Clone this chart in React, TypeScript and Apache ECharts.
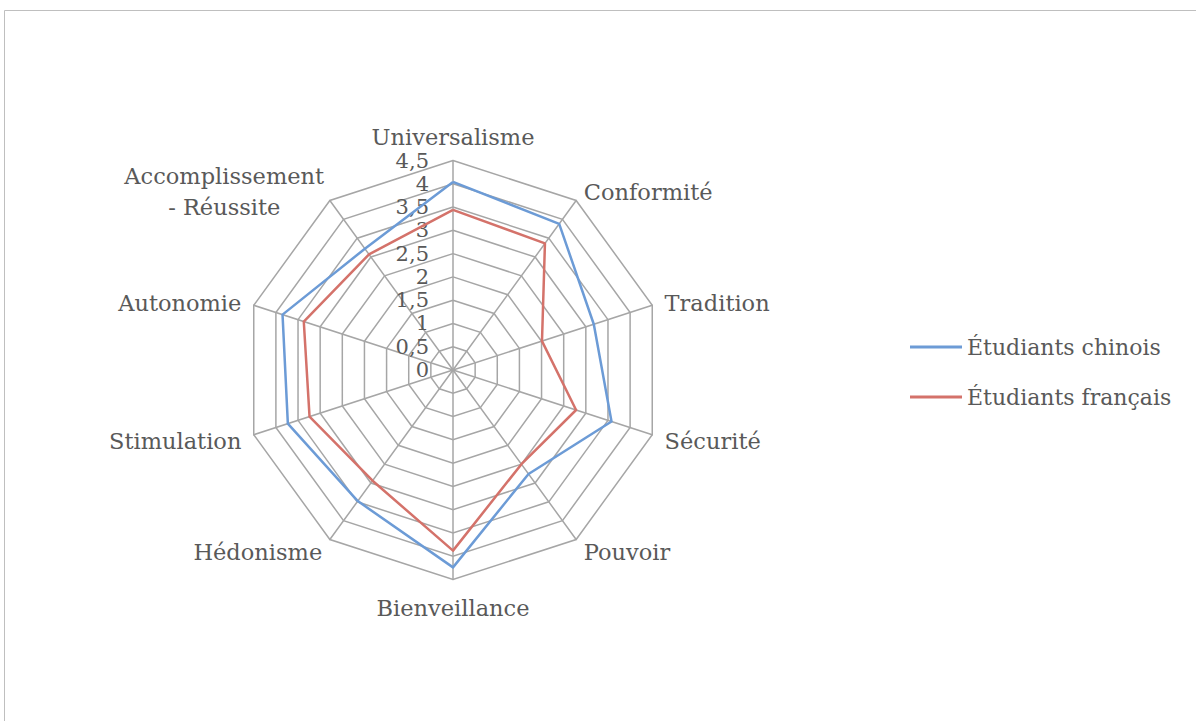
import React, { useEffect, useRef } from "react";
import * as echarts from "echarts";

// Indicators listed clockwise from the top (as in the reference)
const categories = [
  "Universalisme",
  "Conformité",
  "Tradition",
  "Sécurité",
  "Pouvoir",
  "Bienveillance",
  "Hédonisme",
  "Stimulation",
  "Autonomie",
  "Accomplissement\n- Réussite",
];
const chinois = [4.04, 3.88, 3.18, 3.58, 2.76, 4.24, 3.48, 3.73, 3.85, 3.22];
const francais = [3.44, 3.36, 2.01, 2.78, 2.5, 3.88, 2.94, 3.24, 3.37, 3.07];
const seriesNames = ["Étudiants chinois", "Étudiants français"];
const maxValue = 4.5;
const tickStep = 0.5;

const FONT = "DejaVu Serif";
const TEXT = "#595959";

export default function App() {
  const ref = useRef<HTMLDivElement>(null);
  useEffect(() => {
    const chart = echarts.init(ref.current!, null, { renderer: "svg" });
    // ECharts places indicators counter-clockwise; reorder to get clockwise display
    const order = [0, ...Array.from({ length: categories.length - 1 }, (_, i) => categories.length - 1 - i)];
    const indicator = order.map((idx, k) => ({
      name: categories[idx],
      min: 0,
      max: maxValue,
      ...(k === 0 ? { axisLabel: { show: true } } : {}),
    }));
    const pick = (arr: number[]) => order.map((i) => arr[i]);
    chart.setOption({
      animation: false,
      backgroundColor: "#ffffff",
      textStyle: { fontFamily: FONT },
      graphic: [
        {
          type: "rect",
          shape: { x: 4.5, y: 10.5, width: 1400, height: 900 },
          style: { fill: "none", stroke: "#bfbfbf", lineWidth: 1 },
          silent: true,
        },
      ],
      legend: {
        orient: "vertical",
        left: 910,
        top: 335,
        padding: 0,
        itemWidth: 52,
        itemHeight: 3,
        itemGap: 26,
        icon: "rect",
        textStyle: { fontFamily: FONT, fontSize: 22, lineHeight: 24, color: TEXT },
        data: seriesNames,
      },
      radar: {
        center: [453, 370],
        radius: 209.5,
        startAngle: 90,
        shape: "polygon",
        splitNumber: maxValue / tickStep,
        indicator,
        axisName: {
          color: TEXT,
          fontFamily: FONT,
          fontSize: 22.5,
          lineHeight: 22,
          padding: [4, 0, 0, 0],
          formatter: (name: string) =>
            name.includes("\n")
              ? name
                  .split("\n")
                  .map((l) => `{c|${l}}`)
                  .join("\n")
              : name,
          rich: {
            c: {
              width: 196,
              align: "center",
              fontFamily: FONT,
              fontSize: 22.5,
              lineHeight: 31,
              color: TEXT,
            },
          },
        },
        nameGap: 13,
        axisLine: { lineStyle: { color: "#a6a6a6", width: 1.5 } },
        splitLine: { lineStyle: { color: "#a6a6a6", width: 1.5 } },
        splitArea: { show: false },
        axisTick: { show: false },
        axisLabel: {
          show: false,
          color: TEXT,
          fontFamily: FONT,
          fontSize: 21,
          lineHeight: 18,
          padding: [4, 0, 0, 0],
          margin: 24,
          formatter: (v: number) => String(v).replace(".", ","),
        },
      },
      series: [
        {
          type: "radar",
          symbol: "none",
          data: [
            {
              name: seriesNames[0],
              value: pick(chinois),
              lineStyle: { color: "#6c9bd6", width: 2.5 },
              itemStyle: { color: "#6c9bd6" },
            },
            {
              name: seriesNames[1],
              value: pick(francais),
              lineStyle: { color: "#d4726a", width: 2.5 },
              itemStyle: { color: "#d4726a" },
            },
          ],
        },
      ],
    });
    return () => chart.dispose();
  }, []);
  return (
    <div
      ref={ref}
      style={{ position: "fixed", left: 0, top: 0, width: 1196, height: 721 }}
    />
  );
}
